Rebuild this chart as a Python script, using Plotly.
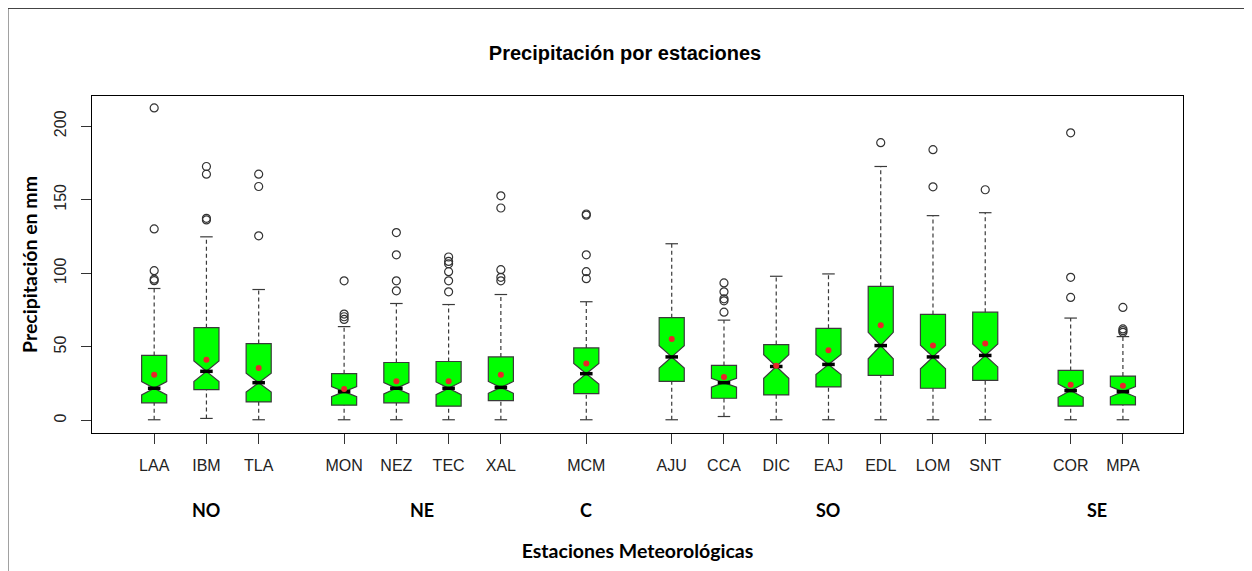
import plotly.graph_objects as go

# ---------------- data ----------------
stations = ["LAA", "IBM", "TLA", "MON", "NEZ", "TEC", "XAL", "MCM",
            "AJU", "CCA", "DIC", "EAJ", "EDL", "LOM", "SNT", "COR", "MPA"]
station_group = ["NO", "NO", "NO", "NE", "NE", "NE", "NE", "C",
                 "SO", "SO", "SO", "SO", "SO", "SO", "SO", "SE", "SE"]
groups = ["NO", "NE", "C", "SO", "SE"]

lower_whisker = [0.5, 1.4, 0.5, 0.5, 0.5, 0.5, 0.5, 0.5,
                 0.5, 2.7, 0.5, 0.5, 0.5, 0.5, 0.5, 0.5, 0.5]
q1 = [12.0, 21.0, 12.6, 10.4, 12.0, 9.7, 13.5, 18.3,
      26.6, 15.1, 17.4, 22.8, 30.7, 21.9, 27.3, 9.7, 10.6]
median = [21.9, 33.4, 25.7, 19.6, 21.9, 21.9, 22.5, 31.8,
          43.2, 25.7, 36.7, 38.1, 50.9, 43.2, 44.2, 20.3, 19.6]
q3 = [44.2, 63.1, 52.3, 31.8, 39.4, 40.1, 43.2, 49.3,
      69.9, 37.4, 51.6, 62.6, 91.2, 72.1, 73.6, 34.0, 30.2]
upper_whisker = [89.7, 124.8, 89.0, 63.8, 79.5, 78.8, 85.6, 80.7,
                 120.1, 68.2, 98.0, 99.6, 172.6, 139.2, 141.2, 69.6, 57.0]
notch_half = [4.5, 7.0, 6.4, 3.4, 3.8, 4.3, 4.0, 7.0,
              7.6, 3.0, 8.0, 6.8, 9.0, 8.0, 7.8, 4.5, 3.5]
means = [31.1, 41.2, 35.6, 21.4, 26.6, 26.6, 31.1, 38.8,
         55.4, 29.5, 37.2, 47.8, 64.7, 50.9, 52.3, 24.3, 23.6]
outliers = [
    [95.0, 96.0, 101.8, 130.2, 212.4],          # LAA
    [136.3, 137.4, 167.4, 172.6],               # IBM
    [125.5, 159.0, 167.4],                      # TLA
    [68.7, 70.5, 72.3, 94.9],                   # MON
    [88.1, 94.9, 112.6, 127.7],                 # NEZ
    [87.4, 94.9, 101.1, 106.5, 108.1, 111.1],   # TEC
    [94.9, 97.3, 102.5, 144.4, 152.7],          # XAL
    [96.4, 101.1, 112.6, 139.5, 140.3],         # MCM
    [],                                         # AJU
    [73.6, 81.3, 82.7, 87.4, 93.5],             # CCA
    [],                                         # DIC
    [],                                         # EAJ
    [188.8],                                    # EDL
    [158.8, 184.0],                             # LOM
    [156.8],                                    # SNT
    [83.6, 97.3, 195.5],                        # COR
    [59.9, 61.0, 62.2, 76.8],                   # MPA
]
y_ticks = [0, 50, 100, 150, 200]

# ---------------- layout helpers ----------------
GROUP_GAP = 1.635
positions = []
p = 0.0
for i, g in enumerate(station_group):
    if i > 0:
        p += GROUP_GAP if g != station_group[i - 1] else 1.0
    positions.append(p)

BOX_W = 0.48
CAP_W = 0.24
MED_W = 0.24

PAGE_W, PAGE_H = 1252, 571
OFF = 8                      # default body margin of the html page
W, H = PAGE_W - OFF, PAGE_H - OFF
PLOT_L, PLOT_R, PLOT_T, PLOT_B = 92, 1183, 96, 435   # page pixels
ML, MT = PLOT_L - OFF, PLOT_T - OFF
MR = W - (PLOT_R - OFF)
MB = H - (PLOT_B - OFF)
PW, PH = PLOT_R - PLOT_L, PLOT_B - PLOT_T


def px_x(px):
    return (px - PLOT_L) / PW


def px_y(py):
    return (PLOT_B - py) / PH


edge = "#3a3a3a"
fig = go.Figure()

# boxes (notched), whiskers drawn separately as dashed lines
fig.add_trace(go.Box(
    x=positions, q1=q1, median=median, q3=q3,
    lowerfence=q1, upperfence=q3, notchspan=notch_half,
    notched=True, notchwidth=0.5, width=BOX_W, whiskerwidth=0,
    fillcolor="#00FF00", line=dict(color=edge, width=1.2),
    boxpoints=False, showlegend=False, hoverinfo="skip"))

# dashed whiskers
wx, wy = [], []
for xp, a, b, c, d in zip(positions, lower_whisker, q1, q3, upper_whisker):
    wx += [xp, xp, None, xp, xp, None]
    wy += [a, b, None, c, d, None]
fig.add_trace(go.Scatter(x=wx, y=wy, mode="lines",
                         line=dict(color=edge, width=1.2, dash="4px,3px"),
                         showlegend=False, hoverinfo="skip"))

# whisker caps
cx, cy = [], []
for xp, a, d in zip(positions, lower_whisker, upper_whisker):
    cx += [xp - CAP_W / 2, xp + CAP_W / 2, None, xp - CAP_W / 2, xp + CAP_W / 2, None]
    cy += [a, a, None, d, d, None]
fig.add_trace(go.Scatter(x=cx, y=cy, mode="lines",
                         line=dict(color=edge, width=1.2),
                         showlegend=False, hoverinfo="skip"))

# thick median lines
mx, my = [], []
for xp, m in zip(positions, median):
    mx += [xp - MED_W / 2, xp + MED_W / 2, None]
    my += [m, m, None]
fig.add_trace(go.Scatter(x=mx, y=my, mode="lines",
                         line=dict(color="black", width=3.5),
                         showlegend=False, hoverinfo="skip"))

# outliers
ox, oy = [], []
for xp, vals in zip(positions, outliers):
    for v in vals:
        ox.append(xp)
        oy.append(v)
fig.add_trace(go.Scatter(x=ox, y=oy, mode="markers",
                         marker=dict(symbol="circle-open", size=8,
                                     color="#333333", line=dict(width=1.2)),
                         showlegend=False, hoverinfo="skip"))

# means
fig.add_trace(go.Scatter(x=positions, y=means, mode="markers",
                         marker=dict(symbol="circle", size=6, color="#E8262A"),
                         showlegend=False, hoverinfo="skip"))

# group labels
annotations = []
for g in groups:
    xs = [xp for xp, sg in zip(positions, station_group) if sg == g]
    annotations.append(dict(
        x=sum(xs) / len(xs), y=px_y(512), xref="x", yref="paper",
        text=g, showarrow=False, yanchor="middle",
        font=dict(family="Lato, Carlito, sans-serif", size=18, color="black",
                  weight="bold")))

# outer frame lines (top and left) of the reference image
shapes = [
    dict(type="line", xref="paper", yref="paper",
         x0=px_x(7.5), x1=px_x(PAGE_W + 5), y0=px_y(7.5), y1=px_y(7.5),
         line=dict(color="#444444", width=2)),
    dict(type="line", xref="paper", yref="paper",
         x0=px_x(7.5), x1=px_x(7.5), y0=px_y(7.5), y1=px_y(PAGE_H + 5),
         line=dict(color="#444444", width=2)),
]

tick_font = dict(family="Liberation Sans, Arial, sans-serif", size=16, color="#222222")
title_font = dict(family="Lato, Carlito, sans-serif", size=19.5, color="black", weight="bold")

fig.update_layout(
    width=W, height=H,
    margin=dict(l=ML, r=MR, t=MT, b=MB),
    paper_bgcolor="white", plot_bgcolor="white",
    title=dict(text="Precipitación por estaciones", xref="container",
               x=(625 - OFF) / W, xanchor="center", yref="container",
               y=1 - (53 - OFF) / H, yanchor="middle",
               font=dict(family="Liberation Sans, Arial, sans-serif", size=20,
                         color="black", weight="bold")),
    xaxis=dict(range=[-1.19, 19.69], tickmode="array", tickvals=positions,
               ticktext=stations, ticks="outside", ticklen=10, tickcolor="#333333",
               tickwidth=1.2, tickfont=tick_font, ticklabelstandoff=8,
               showgrid=False, zeroline=False, showline=True, mirror=True,
               linecolor="black", linewidth=1.3,
               title=dict(text="Estaciones Meteorológicas", font=title_font,
                          standoff=71)),
    yaxis=dict(range=[-8.5, 220.5], tickmode="array", tickvals=y_ticks,
               ticks="outside", ticklen=10, tickcolor="#333333", tickwidth=1.2,
               tickangle=-90, tickfont=tick_font, ticklabelstandoff=8,
               showgrid=False, zeroline=False, showline=True, mirror=True,
               linecolor="black", linewidth=1.3,
               title=dict(text="Precipitación en mm", font=title_font, standoff=9)),
    annotations=annotations,
    shapes=shapes,
)

fig.write_html("out.html")
